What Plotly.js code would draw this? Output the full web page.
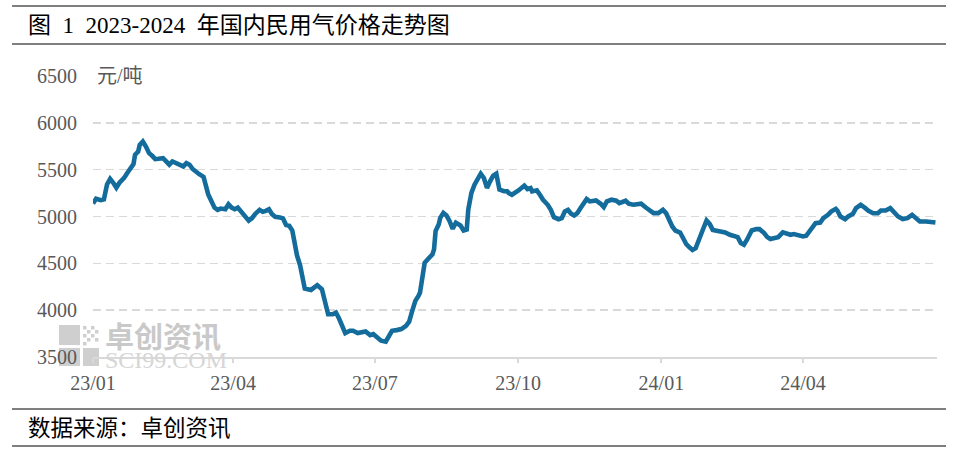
<!DOCTYPE html>
<html>
<head>
<meta charset="utf-8">
<script src="https://cdn.plot.ly/plotly-3.0.1.min.js"></script>
<style>
html,body{margin:0;padding:0;background:#fff;}
#chart{width:958px;height:454px;}
</style>
</head>
<body>
<div id="chart"></div>
<script>
// ---- data ----
const dates = [
'2023-01-01','2023-01-03','2023-01-06','2023-01-08','2023-01-10','2023-01-12','2023-01-14','2023-01-16','2023-01-18','2023-01-21',
'2023-01-23','2023-01-25','2023-01-27','2023-01-28','2023-01-30','2023-01-31','2023-02-02','2023-02-04','2023-02-06','2023-02-08',
'2023-02-10','2023-02-12','2023-02-15','2023-02-17','2023-02-19','2023-02-21','2023-02-24','2023-02-26','2023-02-28','2023-03-02',
'2023-03-04','2023-03-06','2023-03-08','2023-03-10','2023-03-13','2023-03-14','2023-03-16','2023-03-18','2023-03-20','2023-03-22',
'2023-03-24','2023-03-27','2023-03-29','2023-03-31','2023-04-02','2023-04-04','2023-04-06','2023-04-08','2023-04-11','2023-04-13',
'2023-04-15','2023-04-18','2023-04-20','2023-04-22','2023-04-24','2023-04-26','2023-04-28','2023-05-01','2023-05-03','2023-05-05',
'2023-05-07','2023-05-09','2023-05-11','2023-05-12','2023-05-14','2023-05-17','2023-05-21','2023-05-23','2023-05-25','2023-05-28',
'2023-05-30','2023-06-01','2023-06-04','2023-06-06','2023-06-08','2023-06-10','2023-06-12','2023-06-15','2023-06-17','2023-06-20',
'2023-06-23','2023-06-25','2023-06-28','2023-06-30','2023-07-02','2023-07-05','2023-07-08','2023-07-10','2023-07-12','2023-07-15',
'2023-07-18','2023-07-21','2023-07-23','2023-07-25','2023-07-27','2023-07-29','2023-07-30','2023-08-01','2023-08-02','2023-08-04',
'2023-08-07','2023-08-08','2023-08-09','2023-08-11','2023-08-12','2023-08-14','2023-08-16','2023-08-18','2023-08-20','2023-08-22',
'2023-08-25','2023-08-27','2023-08-29','2023-08-30','2023-09-01','2023-09-03','2023-09-05','2023-09-07','2023-09-09','2023-09-11',
'2023-09-13','2023-09-15','2023-09-17','2023-09-19','2023-09-22','2023-09-24','2023-09-25','2023-09-27','2023-10-01','2023-10-05',
'2023-10-07','2023-10-09','2023-10-10','2023-10-13','2023-10-15','2023-10-17','2023-10-20','2023-10-22','2023-10-24','2023-10-27',
'2023-10-29','2023-10-31','2023-11-02','2023-11-04','2023-11-06','2023-11-08','2023-11-10','2023-11-12','2023-11-14','2023-11-16',
'2023-11-20','2023-11-23','2023-11-25','2023-11-27','2023-11-30','2023-12-03','2023-12-05','2023-12-09','2023-12-11','2023-12-14',
'2023-12-17','2023-12-19','2023-12-22','2023-12-24','2023-12-27','2023-12-30','2024-01-02','2024-01-04','2024-01-06','2024-01-08',
'2024-01-10','2024-01-13','2024-01-15','2024-01-17','2024-01-19','2024-01-21','2024-01-23','2024-01-25','2024-01-28','2024-01-30',
'2024-02-01','2024-02-03','2024-02-06','2024-02-09','2024-02-11','2024-02-14','2024-02-17','2024-02-19','2024-02-21','2024-02-23',
'2024-02-25','2024-02-28','2024-03-02','2024-03-04','2024-03-07','2024-03-09','2024-03-11','2024-03-14','2024-03-16','2024-03-19',
'2024-03-21','2024-03-24','2024-03-26','2024-03-29','2024-04-01','2024-04-03','2024-04-05','2024-04-07','2024-04-09','2024-04-12',
'2024-04-14','2024-04-17','2024-04-19','2024-04-22','2024-04-23','2024-04-25','2024-04-28','2024-04-30','2024-05-03','2024-05-05',
'2024-05-08','2024-05-11','2024-05-13','2024-05-16','2024-05-19','2024-05-21','2024-05-24','2024-05-27','2024-05-30','2024-06-01',
'2024-06-04','2024-06-07','2024-06-10','2024-06-13','2024-06-15','2024-06-19','2024-06-22','2024-06-25'
];
const prices = [
5140,5190,5175,5183,5342,5402,5360,5307,5360,5412,
5465,5518,5560,5659,5694,5764,5800,5747,5676,5648,
5613,5616,5623,5588,5553,5588,5570,5553,5535,5570,
5553,5507,5472,5454,5423,5360,5236,5166,5095,5071,
5085,5078,5131,5095,5078,5095,5060,5007,4955,4979,
5025,5071,5050,5060,5078,5025,4997,4990,4979,4909,
4902,4849,4673,4585,4479,4230,4216,4241,4266,4223,
4082,3957,3957,3975,3911,3833,3755,3780,3780,3755,
3770,3773,3734,3745,3716,3674,3663,3720,3780,3787,
3798,3833,3876,3993,4099,4152,4188,4401,4507,4543,
4596,4649,4844,4915,4986,5039,5011,4950,4869,4933,
4904,4851,4862,5074,5252,5340,5411,5457,5411,5305,
5376,5436,5457,5287,5270,5270,5250,5232,5275,5329,
5293,5304,5268,5279,5232,5179,5125,5071,4993,4971,
4982,5054,5071,5029,5011,5036,5089,5150,5186,5161,
5171,5136,5100,5161,5179,5168,5143,5168,5136,5125,
5125,5136,5096,5071,5036,5036,5071,5036,4964,4893,
4850,4829,4768,4704,4671,4643,4661,4761,4875,4957,
4921,4857,4846,4839,4830,4805,4787,4780,4716,4699,
4752,4851,4865,4865,4823,4780,4759,4777,4780,4830,
4816,4805,4812,4801,4787,4794,4840,4887,4929,4936,
4982,5018,5053,5082,5064,5000,4972,5000,5028,5089,
5124,5089,5060,5035,5035,5064,5064,5089,5043,5000,
4972,4982,5018,4972,4947,4947,4947,4936
];
const tickDates = ['2023-01-01','2023-04-01','2023-07-01','2023-10-01','2024-01-01','2024-04-01'];
const tickLabels = ['23/01','23/04','23/07','23/10','24/01','24/04'];
const yTicks = [3500,4000,4500,5000,5500,6000,6500];
const titleText = '图 1 2023-2024 年国内民用气价格走势图';
const unitText = '元/吨';
const sourceText = '数据来源：卓创资讯';

// ---- layout helpers (page pixels -> paper coords) ----
const W = 958, H = 454, ML = 93, MR = 21, MT = 76, MB = 97;
const PW = W - ML - MR, PH = H - MT - MB;
const fx = x => (x - ML) / PW;
const fy = y => (H - MB - y) / PH;

const SERIF = '"Liberation Serif", "Noto Sans CJK SC", serif';
const CJK = '"Liberation Serif", "Noto Sans CJK SC", sans-serif';

function hline(y, x0, x1, color, width) {
  return {type:'line', xref:'paper', yref:'paper', x0:fx(x0), x1:fx(x1), y0:fy(y), y1:fy(y),
          line:{color:color, width:width}};
}
function box(x0, y0, x1, y1, color) {
  return {type:'rect', xref:'paper', yref:'paper', x0:fx(x0), x1:fx(x1), y0:fy(y1), y1:fy(y0),
          fillcolor:color, line:{width:0}, layer:'below'};
}

const wm = '#cfcfcf';
const shapes = [
  hline(6, 12, 946, '#000', 1.2),
  hline(44, 12, 946, '#000', 1.2),
  hline(409, 12, 946, '#000', 1.2),
  hline(446, 12, 946, '#000', 1.2),
  // watermark icon
  box(59, 325, 80, 345, wm),
  box(59, 348, 80, 366, wm),
  box(83, 348, 99, 366, wm),
];
[[83,326],[91,326],[87,330],[95,330],[83,334],[91,334],[87,338],[95,338],[83,342]].forEach(p=>{
  shapes.push(box(p[0], p[1], p[0]+3.5, p[1]+3.5, wm));
});

const trace = {
  x: dates, y: prices, type:'scatter', mode:'lines',
  line:{color:'#136c9b', width:4.6, shape:'linear'},
  hoverinfo:'x+y'
};

const layout = {
  width: W, height: H,
  margin:{l:ML, r:MR, t:MT, b:MB, pad:0},
  paper_bgcolor:'#fff', plot_bgcolor:'#fff',
  showlegend:false,
  xaxis:{
    type:'date', range:['2023-01-01','2024-06-26'],
    tickvals:tickDates, ticktext:tickLabels,
    showgrid:false, zeroline:false,
    showline:true, linecolor:'#d9d9d9', linewidth:2,
    ticks:'outside', ticklen:4, tickwidth:2, tickcolor:'#d9d9d9',
    tickfont:{family:SERIF, size:20, color:'#595959'},
    ticklabelstandoff:3
  },
  yaxis:{
    range:[3500,6500], tickvals:yTicks, ticktext:yTicks.map(String),
    showgrid:true, gridcolor:'#d9d9d9', gridwidth:1.5, griddash:'8px,5px',
    zeroline:false, showline:false, ticks:'',
    tickfont:{family:SERIF, size:20, color:'#595959'},
    ticklabelstandoff:15
  },
  shapes: shapes,
  annotations:[
    {text:titleText.replace(/ /g, '\u2002'), xref:'paper', yref:'paper', x:fx(26), y:fy(26), xanchor:'left', yanchor:'middle',
     showarrow:false, font:{family:CJK, size:23, color:'#000'}},
    {text:sourceText, xref:'paper', yref:'paper', x:fx(26), y:fy(428), xanchor:'left', yanchor:'middle',
     showarrow:false, font:{family:CJK, size:22.5, color:'#000'}},
    {text:unitText, xref:'paper', yref:'y', x:fx(94), y:6500, xanchor:'left', yanchor:'middle',
     showarrow:false, bgcolor:'#fff', borderpad:2, font:{family:CJK, size:20, color:'#595959'}},
    // watermark texts
    {text:'<b>卓创资讯</b>', xref:'paper', yref:'paper', x:fx(103), y:fy(335), xanchor:'left', yanchor:'middle',
     showarrow:false, font:{family:'"Noto Sans CJK SC", sans-serif', size:29, color:'#c9c9c9'}},
    {text:'SCI99.COM', xref:'paper', yref:'paper', x:fx(103), y:fy(360), xanchor:'left', yanchor:'middle',
     showarrow:false, font:{family:'"Liberation Serif", serif', size:24, color:'#d6d6d6'}}
  ]
};

Plotly.newPlot('chart', [trace], layout, {displayModeBar:false, staticPlot:true});
</script>
</body>
</html>
